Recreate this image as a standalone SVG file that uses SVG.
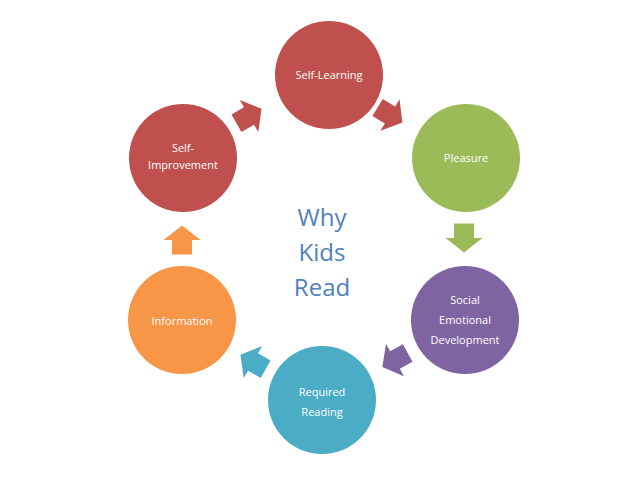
<svg xmlns="http://www.w3.org/2000/svg" width="638" height="479" viewBox="0 0 638 479">
<style>
.lbl{font-family:"Open Sans","Liberation Sans",sans-serif;font-size:11px;fill:#fff;text-anchor:middle}
.ctr{font-family:"Open Sans","Liberation Sans",sans-serif;font-size:24px;fill:#4F81BD;text-anchor:middle}
</style>
<defs>
<polygon id="arr" points="-14.5,-10 0,-10 0,-18.5 14.5,0 0,18.5 0,10 -14.5,10"/>
</defs>
<rect width="638" height="479" fill="#fff"/>
<g id="connectors">
<use href="#arr" fill="#C0504D" transform="translate(249,116) rotate(-30)"/>
<use href="#arr" fill="#C0504D" transform="translate(390,115) rotate(31)"/>
<use href="#arr" fill="#9BBB59" transform="translate(464,238) rotate(90)"/>
<use href="#arr" fill="#8064A2" transform="translate(395,360) rotate(151)"/>
<use href="#arr" fill="#4BACC6" transform="translate(253,362) rotate(210)"/>
<use href="#arr" fill="#F79646" transform="translate(182,240) rotate(-90)"/>
</g>
<g id="self-learning"><circle cx="329" cy="75" r="54" fill="#C0504D"/><text class="lbl" x="329" y="79">Self-Learning</text></g>
<g id="pleasure"><circle cx="466" cy="158" r="54" fill="#9BBB59"/><text class="lbl" x="466" y="162">Pleasure</text></g>
<g id="social"><circle cx="465" cy="320" r="54" fill="#8064A2"/><text class="lbl" x="465" y="304">Social</text><text class="lbl" x="465" y="324">Emotional</text><text class="lbl" x="465" y="344">Development</text></g>
<g id="required"><circle cx="322" cy="400" r="54" fill="#4BACC6"/><text class="lbl" x="322" y="396">Required</text><text class="lbl" x="322" y="416">Reading</text></g>
<g id="information"><circle cx="182" cy="320" r="54" fill="#F79646"/><text class="lbl" x="182" y="325">Information</text></g>
<g id="self-improvement"><circle cx="183" cy="158" r="54" fill="#C0504D"/><text class="lbl" x="183" y="152">Self-</text><text class="lbl" x="183" y="169">Improvement</text></g>
<g id="center"><text class="ctr" x="322" y="226">Why</text><text class="ctr" x="322" y="261">Kids</text><text class="ctr" x="322" y="296">Read</text></g>
</svg>
